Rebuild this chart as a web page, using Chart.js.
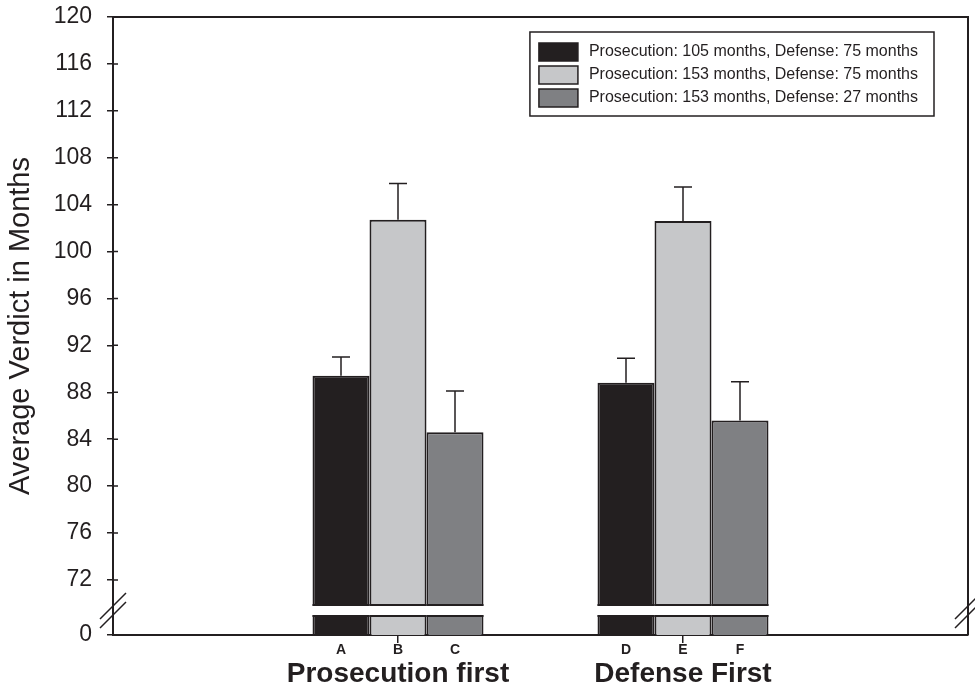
<!DOCTYPE html>
<html>
<head>
<meta charset="utf-8">
<script src="https://cdn.jsdelivr.net/npm/chart.js@4.4.0/dist/chart.umd.min.js"></script>
<style>
  html, body { margin: 0; padding: 0; background: #fff; }
  #wrap { width: 975px; height: 690px; position: relative; }
</style>
</head>
<body>
<div id="wrap"><canvas id="myChart"></canvas></div>
<script>
// groups on the x axis
const groups = ['Prosecution first', 'Defense First']

// mean verdicts (months) per condition
const meansP105D75 = [89.4, 88.8]
const meansP153D75 = [102.7, 102.6]
const meansP153D27 = [84.6, 85.6]

// upper error bar length (months)
const errP105D75 = [1.6, 2.1]
const errP153D75 = [3.1, 2.9]
const errP153D27 = [3.5, 3.3]

// letters printed under the bars
const lettersP105D75 = ['A', 'D']
const lettersP153D75 = ['B', 'E']
const lettersP153D27 = ['C', 'F']

// y tick labels above the axis break
const yTicks = [72, 76, 80, 84, 88, 92, 96, 100, 104, 108, 112, 116, 120]

const ink = '#231f20'
const fontFamily = '"Liberation Sans", Arial, Helvetica, sans-serif'
const yFloor = 67.3   // axis value drawn as "0" below the break

Chart.defaults.font.family = fontFamily
Chart.defaults.color = ink

const pad = arr => [null, ...arr, null]

const decor = {
  id: 'decor',
  afterDatasetsDraw(chart) {
    const { ctx, chartArea: a, scales: { y } } = chart
    const gapTop = a.bottom - 29
    const gapBot = a.bottom - 20
    ctx.save()
    chart.data.datasets.forEach((ds, di) => {
      chart.getDatasetMeta(di).data.forEach((bar, i) => {
        if (ds.data[i] == null) return
        const l = bar.x - bar.width / 2
        const r = bar.x + bar.width / 2
        // error bar
        const yErr = y.getPixelForValue(ds.data[i] + ds.errors[i - 1])
        ctx.strokeStyle = ink
        ctx.lineWidth = 1.5
        ctx.beginPath()
        ctx.moveTo(bar.x, bar.y)
        ctx.lineTo(bar.x, yErr)
        ctx.moveTo(bar.x - 9, yErr)
        ctx.lineTo(bar.x + 9, yErr)
        ctx.stroke()
        // axis break gap through the bar
        ctx.fillStyle = '#fff'
        ctx.fillRect(l - 1, gapTop, r - l + 2, gapBot - gapTop)
        ctx.lineWidth = 2
        ctx.beginPath()
        ctx.moveTo(l, gapTop - 1)
        ctx.lineTo(r, gapTop - 1)
        ctx.moveTo(l, gapBot + 1)
        ctx.lineTo(r, gapBot + 1)
        ctx.stroke()
        // letter
        ctx.fillStyle = ink
        ctx.font = 'bold 14px ' + fontFamily
        ctx.textAlign = 'center'
        ctx.textBaseline = 'middle'
        ctx.fillText(ds.letters[i - 1], bar.x, a.bottom + 15)
      })
    })
    ctx.restore()
  },
  afterDraw(chart) {
    const { ctx, chartArea: a, scales: { y } } = chart
    const gapTop = a.bottom - 29
    const gapBot = a.bottom - 20
    ctx.save()
    ctx.strokeStyle = ink
    // frame top and right
    ctx.lineWidth = 2
    ctx.beginPath()
    ctx.moveTo(a.left, a.top)
    ctx.lineTo(a.right, a.top)
    ctx.lineTo(a.right, a.bottom)
    ctx.stroke()
    // inner half of y ticks
    ctx.lineWidth = 1.5
    ctx.beginPath()
    yTicks.forEach(v => {
      const py = y.getPixelForValue(v)
      ctx.moveTo(a.left, py)
      ctx.lineTo(a.left + 5, py)
    })
    ctx.stroke()
    // break marks
    ctx.beginPath()
    ;[a.left, a.right].forEach(x => {
      [gapTop, gapBot].forEach(cy => {
        ctx.moveTo(x - 13, cy + 13)
        ctx.lineTo(x + 13, cy - 13)
      })
    })
    ctx.stroke()
    // legend
    ctx.font = '16px ' + fontFamily
    ctx.textBaseline = 'middle'
    ctx.textAlign = 'left'
    const dsets = chart.data.datasets
    const textW = Math.max(...dsets.map(d => ctx.measureText(d.label).width))
    const boxW = 9 + 39 + 11 + textW + 16
    const boxR = a.right - 34
    const boxL = boxR - boxW
    const boxT = a.top + 15
    const rowH = 23
    const boxH = 20 + rowH * (dsets.length - 1) + 18
    ctx.lineWidth = 1.5
    ctx.strokeRect(boxL, boxT, boxW, boxH)
    dsets.forEach((d, i) => {
      const cy = boxT + 20 + rowH * i
      ctx.fillStyle = d.backgroundColor
      ctx.fillRect(boxL + 9, cy - 9, 39, 18)
      ctx.strokeRect(boxL + 9, cy - 9, 39, 18)
      ctx.fillStyle = ink
      ctx.fillText(d.label, boxL + 9 + 39 + 11, cy)
    })
    ctx.restore()
  }
}

const makeSet = (label, data, errors, letters, color) => ({
  label,
  data: pad(data),
  errors,
  letters,
  backgroundColor: color,
  borderColor: ink,
  borderWidth: 2,
  borderSkipped: 'start',
  barPercentage: 1,
  categoryPercentage: 0.6
})

new Chart(document.getElementById('myChart'), {
  type: 'bar',
  data: {
    labels: ['', ...groups, ''],
    datasets: [
      makeSet('Prosecution: 105 months, Defense: 75 months', meansP105D75, errP105D75, lettersP105D75, '#231f20'),
      makeSet('Prosecution: 153 months, Defense: 75 months', meansP153D75, errP153D75, lettersP153D75, '#c6c7c9'),
      makeSet('Prosecution: 153 months, Defense: 27 months', meansP153D27, errP153D27, lettersP153D27, '#7f8083')
    ]
  },
  options: {
    responsive: true,
    maintainAspectRatio: false,
    animation: false,
    layout: { padding: { top: 17, right: 7, left: 0, bottom: 0 } },
    plugins: { legend: { display: false }, tooltip: { enabled: false } },
    scales: {
      x: {
        type: 'category',
        offset: false,
        grid: {
          offset: false,
          drawOnChartArea: false,
          tickLength: 8,
          lineWidth: 1.5,
          color: c => (c.index === 1 || c.index === 2) ? ink : 'rgba(0,0,0,0)'
        },
        border: { color: ink, width: 2 },
        ticks: { color: ink, font: { size: 28, weight: 'bold', lineHeight: 2.2 }, padding: 0, autoSkip: false, maxRotation: 0 },
        afterFit: s => { s.height = 55 }
      },
      y: {
        min: yFloor,
        max: 120,
        afterBuildTicks: s => { s.ticks = [yFloor, ...yTicks].map(v => ({ value: v })) },
        ticks: { color: ink, font: { size: 23, lineHeight: 0.1 }, padding: 15, callback: v => v === yFloor ? '0' : v },
        grid: { drawOnChartArea: false, tickLength: 6, lineWidth: 1.5, color: ink },
        border: { color: ink, width: 2 },
        title: { display: true, text: 'Average Verdict in Months', color: ink, font: { size: 29 }, padding: { top: 4, bottom: 0 } },
        afterFit: s => { s.width = 113 }
      }
    }
  },
  plugins: [decor]
})
</script>
</body>
</html>
